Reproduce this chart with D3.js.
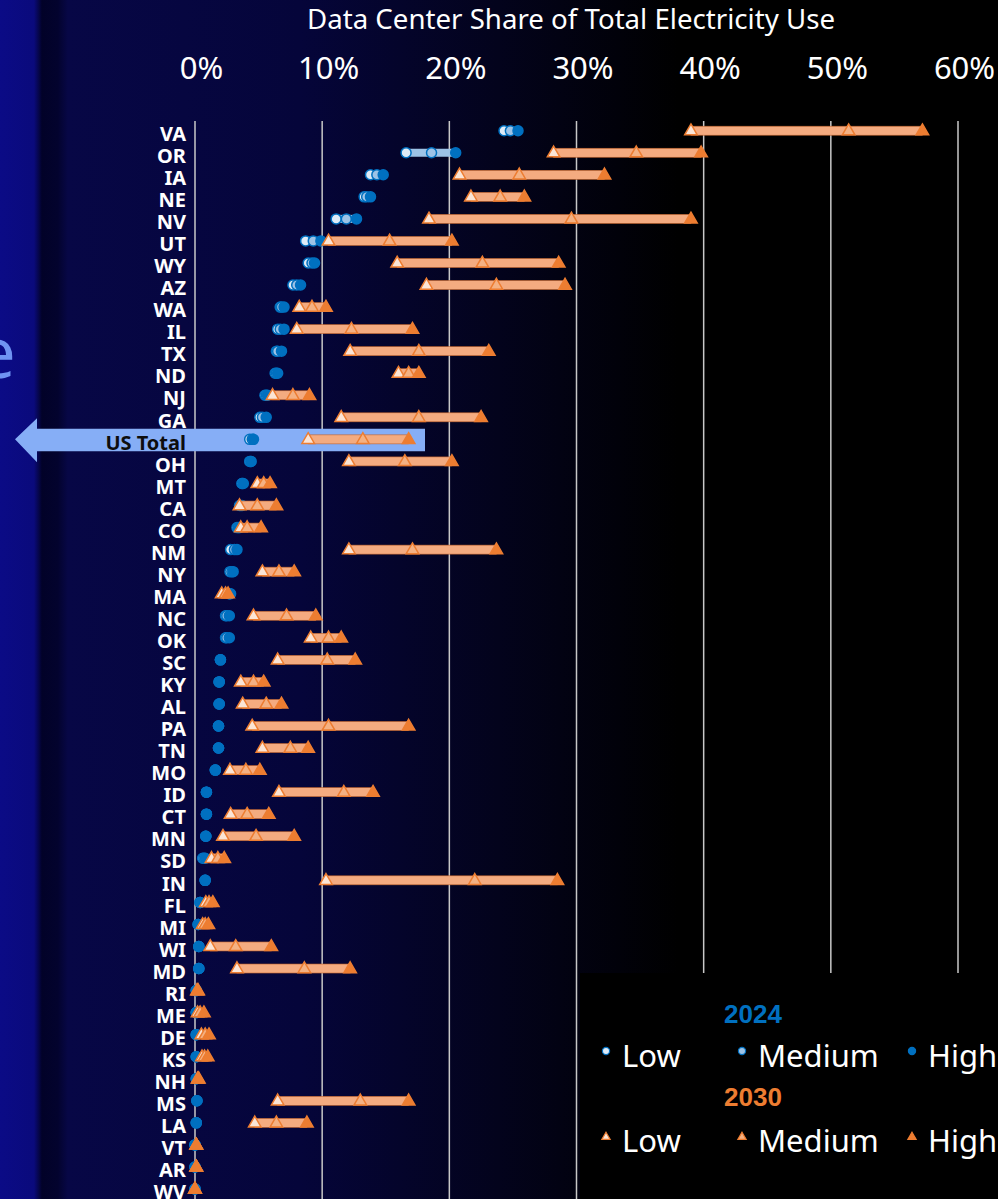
<!DOCTYPE html>
<html>
<head>
<meta charset="utf-8">
<script src="https://cdn.jsdelivr.net/npm/d3@7"></script>
<style>
  html, body { margin: 0; padding: 0; background: #000; }
  svg { display: block; }
</style>
</head>
<body>
<div id="chart"></div>
<script>
// state rows, top to bottom
const states = ["VA","OR","IA","NE","NV","UT","WY","AZ","WA","IL","TX","ND","NJ","GA","US Total",
  "OH","MT","CA","CO","NM","NY","MA","NC","OK","SC","KY","AL","PA","TN","MO","ID","CT","MN","SD",
  "IN","FL","MI","WI","MD","RI","ME","DE","KS","NH","MS","LA","VT","AR","WV"];

// 2024 share (%), low / medium / high
const low2024  = [24.3,16.6,13.8,13.3,11.1,8.7,8.9,7.7,6.7,6.5,6.4,6.3,5.5,5.1,4.3,
  4.3,3.7,3.5,3.3,2.8,2.75,2.7,2.4,2.4,2.0,1.9,1.9,1.85,1.85,1.6,0.9,0.9,0.85,0.6,
  0.8,0.4,0.25,0.3,0.3,0.1,0.1,0.1,0.1,0.1,0.15,0.1,0.0,0.0,0.0];
const med2024  = [24.8,18.6,14.3,13.5,11.9,9.3,9.2,8.0,6.8,6.7,6.5,6.4,5.6,5.3,4.5,
  4.4,3.7,3.6,3.4,3.1,2.9,2.7,2.5,2.5,2.0,1.9,1.9,1.85,1.85,1.6,0.9,0.9,0.85,0.7,
  0.8,0.4,0.25,0.3,0.3,0.1,0.1,0.1,0.1,0.1,0.15,0.1,0.0,0.0,0.0];
const high2024 = [25.4,20.5,14.8,13.8,12.7,9.9,9.4,8.3,7.0,7.0,6.8,6.5,5.7,5.6,4.6,
  4.4,3.8,3.7,3.5,3.3,3.0,2.8,2.7,2.7,2.0,1.9,1.9,1.85,1.85,1.6,0.9,0.9,0.85,0.8,
  0.8,0.4,0.25,0.3,0.3,0.1,0.1,0.1,0.1,0.1,0.15,0.1,0.0,0.0,0.0];

// 2030 share (%), low / medium / high
const low2030  = [39.0,28.2,20.8,21.7,18.4,10.5,15.9,18.2,8.2,8.0,12.2,16.0,6.1,11.5,8.9,
  12.1,4.9,3.5,3.6,12.1,5.3,2.1,4.6,9.1,6.5,3.6,3.75,4.5,5.3,2.75,6.6,2.8,2.2,1.3,
  10.3,0.85,0.6,1.2,3.3,0.15,0.2,0.5,0.55,0.2,6.5,4.7,0.1,0.1,0.0];
const med2030  = [51.4,34.7,25.5,24.0,29.6,15.3,22.6,23.7,9.2,12.3,17.6,16.8,7.7,17.6,13.2,
  16.5,5.4,4.9,4.1,17.1,6.6,2.4,7.2,10.5,10.4,4.6,5.6,10.5,7.5,4.0,11.7,4.1,4.8,1.8,
  22.0,1.1,0.8,3.2,8.6,0.2,0.4,0.8,0.75,0.25,13.0,6.4,0.1,0.1,0.0];
const high2030 = [57.2,39.8,32.2,25.9,39.0,20.2,28.6,29.1,10.3,17.1,23.1,17.6,9.0,22.5,16.8,
  20.2,5.9,6.4,5.2,23.7,7.8,2.6,9.5,11.5,12.6,5.4,6.8,16.8,8.9,5.1,14.0,5.8,7.8,2.3,
  28.5,1.4,1.05,6.0,12.2,0.25,0.7,1.1,1.0,0.3,16.8,8.8,0.1,0.1,0.0];

const xTicks = [0, 10, 20, 30, 40, 50, 60];
const title = "Data Center Share of Total Electricity Use";

const width = 998, height = 1199;
const blue = "#0070c0", orange = "#ed7d31";

let rows = states.map((s, i) => ({
    name: s,
    c: [low2024[i], med2024[i], high2024[i]],
    t: [low2030[i], med2030[i], high2030[i]]
}));

let svg = d3.select("#chart").append("svg")
    .attr("width", width)
    .attr("height", height)
    .style("font-family", "'Noto Sans', 'Open Sans', sans-serif");

// background: navy on the left fading to black
let defs = svg.append("defs");
let bg = defs.append("linearGradient").attr("id", "bg");
[[0, "#0b0b86"], [0.034, "#0a0a7c"], [0.042, "#020228"], [0.058, "#03032e"], [0.068, "#070746"],
 [0.3, "#05053a"], [0.5, "#03031c"], [0.68, "#000"], [1, "#000"]]
    .forEach(([o, c]) => bg.append("stop").attr("offset", o).attr("stop-color", c));
svg.append("rect").attr("width", width).attr("height", height).attr("fill", "url(#bg)");

// piece of the slide title peeking out on the left
svg.append("text")
    .attr("x", 16).attr("y", 378)
    .attr("text-anchor", "end")
    .attr("fill", "#6f93f2")
    .style("font-size", "72px")
    .style("font-family", "'Open Sans', sans-serif")
    .text("e");

let x = d3.scaleLinear().domain([0, 60]).range([195, 958]);
let y = d3.scalePoint().domain(states).range([130.7, 1189]);

// grid lines
svg.append("g").selectAll("line")
    .data(xTicks)
    .join("line")
    .attr("x1", d => x(d)).attr("x2", d => x(d))
    .attr("y1", 121).attr("y2", height)
    .attr("stroke", "#c8c8c8")
    .attr("stroke-width", 1.5);

// legend box hides the right grid lines
svg.append("rect")
    .attr("x", 580).attr("y", 973)
    .attr("width", width - 580).attr("height", height - 973)
    .attr("fill", "#000");

// top axis (labels sit a little right of their lines, as in the source)
let axis = svg.append("g")
    .attr("transform", "translate(6, 82)")
    .call(d3.axisTop(x).tickValues(xTicks).tickSize(0).tickFormat(d => d + "%"));
axis.select(".domain").remove();
axis.selectAll("text")
    .attr("fill", "#fff")
    .style("font-size", "31px")
    .style("font-family", "'Noto Sans', sans-serif");

// title
svg.append("text")
    .attr("x", 571).attr("y", 29)
    .attr("text-anchor", "middle")
    .attr("fill", "#fff")
    .attr("textLength", 528)
    .attr("lengthAdjust", "spacingAndGlyphs")
    .style("font-size", "27px")
    .text(title);

// US Total highlight arrow
let ty = y("US Total");
svg.append("path")
    .attr("d", d3.line()([[15, ty], [37, ty - 21], [37, ty - 10.5], [425, ty - 10.5],
        [425, ty + 12], [37, ty + 12], [37, ty + 23], [15, ty]]))
    .attr("fill", "#86aef6");

// row labels
svg.append("g").selectAll("text")
    .data(rows)
    .join("text")
    .attr("x", 186)
    .attr("y", d => y(d.name) + 3)
    .attr("dy", "0.36em")
    .attr("text-anchor", "end")
    .attr("fill", d => d.name === "US Total" ? "#0d0d0d" : "#fff")
    .style("font-weight", "bold")
    .style("font-size", "20px")
    .text(d => d.name);

let circleFill = ["#deebf7", "#9dc3e6", blue];
let triFill = ["#fbe5d6", "#f4b183", orange];
let tri = d3.symbol(d3.symbolTriangle, 68);

let marks = svg.append("g");
let row = marks.selectAll("g")
    .data(rows)
    .join("g")
    .attr("transform", d => `translate(0, ${y(d.name)})`);

// 2024 range bar + circles
row.append("rect")
    .attr("x", d => x(d.c[0]))
    .attr("width", d => x(d.c[2]) - x(d.c[0]))
    .attr("y", -4).attr("height", 8)
    .attr("fill", "#9dc3e6");
row.selectAll("circle")
    .data(d => d.c)
    .join("circle")
    .attr("cx", d => x(d))
    .attr("r", 5)
    .attr("fill", (d, i) => circleFill[i])
    .attr("stroke", blue)
    .attr("stroke-width", 1.5);

// 2030 range bar + triangles
row.append("rect")
    .attr("x", d => x(d.t[0]))
    .attr("width", d => x(d.t[2]) - x(d.t[0]))
    .attr("y", -4.5).attr("height", 9)
    .attr("fill", "#f4ab80")
    .attr("stroke", "#c0622a")
    .attr("stroke-width", 0.6);
row.selectAll("path")
    .data(d => d.t)
    .join("path")
    .attr("d", tri)
    .attr("transform", d => `translate(${x(d)}, 0.5)`)
    .attr("fill", (d, i) => triFill[i])
    .attr("stroke", orange)
    .attr("stroke-width", 1.5);

// legend
let legend = svg.append("g").style("font-family", "'Liberation Sans', Arial, sans-serif");
let series = ["Low", "Medium", "High"];
let legX = [606, 742, 912];
let legend2024 = legend.append("g").attr("transform", "translate(0, 1051)");
let legend2030 = legend.append("g").attr("transform", "translate(0, 1136)");

legend.append("text").attr("x", 724).attr("y", 1023)
    .attr("fill", blue).style("font-weight", "bold").style("font-size", "26px").text("2024");
legend.append("text").attr("x", 724).attr("y", 1106)
    .attr("fill", orange).style("font-weight", "bold").style("font-size", "26px").text("2030");

legend2024.selectAll("circle")
    .data(series)
    .join("circle")
    .attr("cx", (d, i) => legX[i])
    .attr("r", 3.6)
    .attr("fill", (d, i) => circleFill[i])
    .attr("stroke", blue)
    .attr("stroke-width", 1.2);
legend2030.selectAll("path")
    .data(series)
    .join("path")
    .attr("d", d3.symbol(d3.symbolTriangle, 30))
    .attr("transform", (d, i) => `translate(${legX[i]}, 1)`)
    .attr("fill", (d, i) => triFill[i])
    .attr("stroke", orange)
    .attr("stroke-width", 1.2);
[legend2024, legend2030].forEach(g => g.selectAll("text")
    .data(series)
    .join("text")
    .attr("x", (d, i) => legX[i] + 16)
    .attr("y", 16)
    .attr("fill", "#fff")
    .style("font-family", "'Noto Sans', sans-serif")
    .style("font-size", "31px")
    .text(d => d));
</script>
</body>
</html>
